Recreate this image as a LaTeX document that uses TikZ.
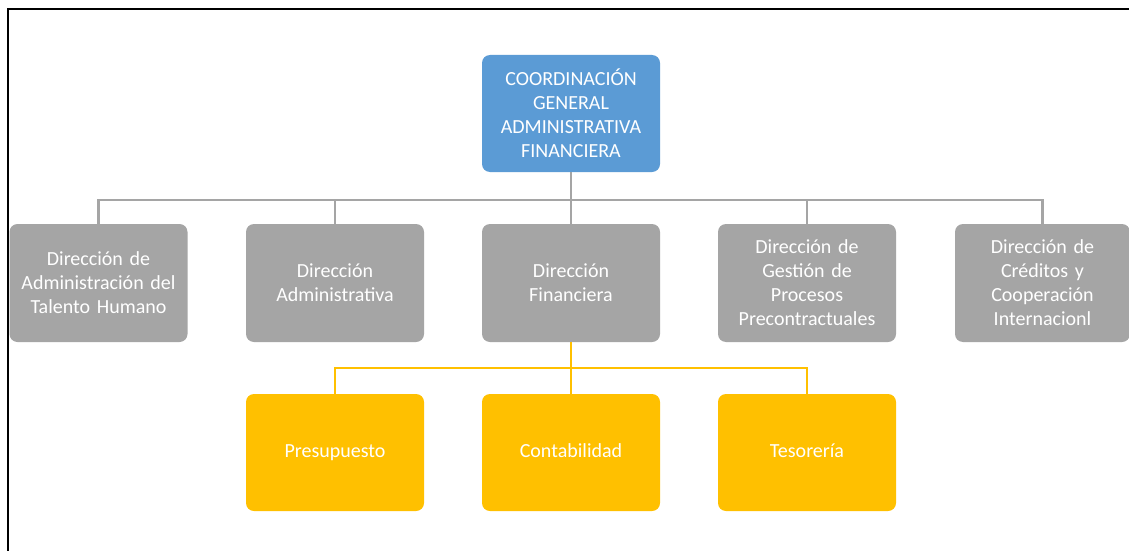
\documentclass[tikz,border=0pt]{standalone}
\usepackage{fontspec}
\setmainfont{Carlito}[WordSpace=0.7]
\definecolor{cblue}{HTML}{5B9BD5}
\definecolor{cgray}{HTML}{A5A5A5}
\definecolor{cyel}{HTML}{FFC000}
\begin{document}
\begin{tikzpicture}[x=1pt,y=-1pt,
  box/.style={rectangle, rounded corners=8pt, minimum width=178pt, minimum height=118pt, text width=172pt, align=center, text=white, font=\fontsize{20}{24}\selectfont, inner sep=0pt},
  bluebox/.style={box, fill=cblue},
  graybox/.style={box, fill=cgray},
  yelbox/.style={box, fill=cyel},
  gline/.style={draw=cgray, line width=2.6pt},
  yline/.style={draw=cyel, line width=2.6pt}]
\useasboundingbox (0,0) rectangle (1129,551);
\fill[white] (0,0) rectangle (1129,551);
\draw[line width=2pt, black] (7.5,551) -- (7.5,9) -- (1129,9);

\node[bluebox, minimum height=117pt] (top) at (571,113.5) {COORDINACIÓN\\GENERAL\\ADMINISTRATIVA\\FINANCIERA};

\node[graybox] (g1) at (98.5,283) {Dirección de\\Administración del\\Talento Humano};
\node[graybox] (g2) at (335,283) {Dirección\\Administrativa};
\node[graybox] (g3) at (571,283) {Dirección\\Financiera};
\node[graybox] (g4) at (807,283) {Dirección de\\Gestión de\\Procesos\\Precontractuales};
\node[graybox, minimum width=175pt] (g5) at (1042.5,283) {Dirección de\\Créditos y\\Cooperación\\Internacionl};

\node[yelbox, minimum height=117pt] (y1) at (335,452.5) {\vphantom{Pp}Presupuesto};
\node[yelbox, minimum height=117pt] (y2) at (571,452.5) {\vphantom{Pp}Contabilidad};
\node[yelbox, minimum height=117pt] (y3) at (807,452.5) {\vphantom{Pp}Tesorería};

\coordinate (bus) at (571,200);
\coordinate (ybus) at (571,368);

\draw[gline] (top.south) -- (g3.north);
\draw[gline] (g1.north) |- (bus) -| (g5.north);
\draw[gline] (g2.north) -- (g2.north |- bus);
\draw[gline] (g4.north) -- (g4.north |- bus);

\draw[yline] (g3.south) -- (y2.north);
\draw[yline] (y1.north) |- (ybus) -| (y3.north);
\end{tikzpicture}
\end{document}
